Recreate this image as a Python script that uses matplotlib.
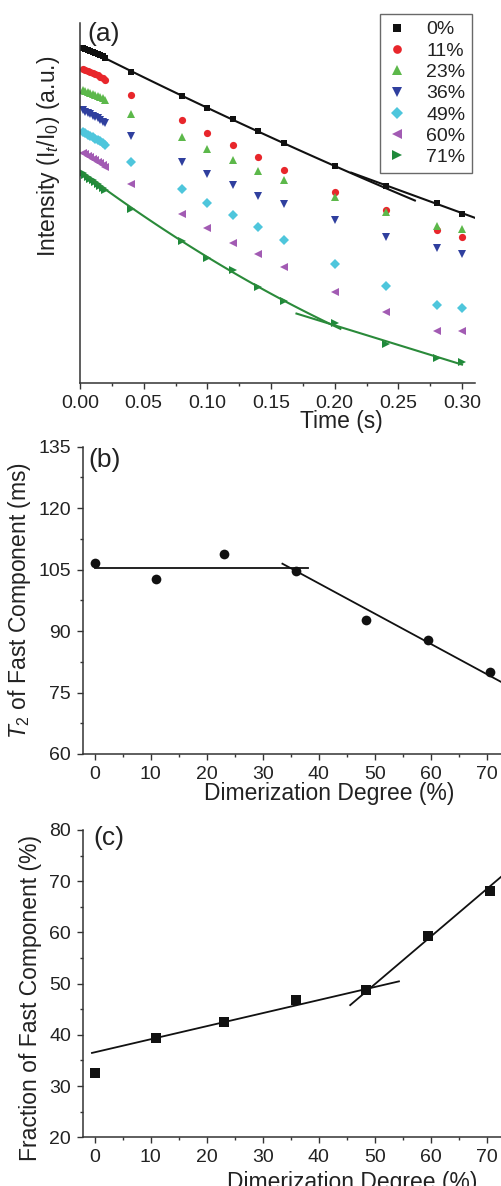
import numpy as np
import matplotlib
matplotlib.use("Agg")
import matplotlib.pyplot as plt
from matplotlib.ticker import MultipleLocator

plt.rcParams["font.family"] = ["Liberation Sans", "DejaVu Sans"]
plt.rcParams["mathtext.fontset"] = "custom"
plt.rcParams["mathtext.rm"] = "Liberation Sans"
plt.rcParams["mathtext.it"] = "Liberation Sans:italic"
plt.rcParams["text.color"] = "#222222"
plt.rcParams["axes.labelcolor"] = "#222222"
plt.rcParams["xtick.color"] = "#222222"
plt.rcParams["ytick.color"] = "#222222"

# ---- panel (a): decay curves, intensity in arbitrary units ----
time_s = [0.002, 0.004, 0.006, 0.008, 0.010, 0.012, 0.014, 0.016, 0.018, 0.020,
          0.04, 0.08, 0.10, 0.12, 0.14, 0.16, 0.20, 0.24, 0.28, 0.30]
intensity = {
    "0%":  [3.36, 3.35, 3.34, 3.33, 3.32, 3.31, 3.30, 3.29, 3.275, 3.26,
            3.12, 2.877, 2.757, 2.643, 2.523, 2.403, 2.177, 1.98, 1.807, 1.697],
    "11%": [3.15, 3.14, 3.13, 3.12, 3.11, 3.10, 3.09, 3.07, 3.055, 3.04,
            2.89, 2.633, 2.51, 2.39, 2.27, 2.14, 1.92, 1.733, 1.533, 1.467],
    "23%": [2.94, 2.93, 2.92, 2.91, 2.90, 2.89, 2.88, 2.87, 2.855, 2.84,
            2.70, 2.47, 2.343, 2.24, 2.127, 2.04, 1.867, 1.713, 1.573, 1.547],
    "36%": [2.74, 2.72, 2.71, 2.70, 2.68, 2.67, 2.66, 2.64, 2.62, 2.605,
            2.473, 2.217, 2.10, 1.99, 1.877, 1.79, 1.63, 1.467, 1.35, 1.293],
    "49%": [2.52, 2.51, 2.49, 2.48, 2.47, 2.45, 2.44, 2.43, 2.41, 2.39,
            2.22, 1.943, 1.807, 1.683, 1.563, 1.433, 1.197, 0.97, 0.78, 0.75],
    "60%": [2.31, 2.30, 2.28, 2.27, 2.25, 2.24, 2.22, 2.21, 2.19, 2.17,
            1.993, 1.693, 1.55, 1.407, 1.293, 1.16, 0.913, 0.707, 0.517, 0.517],
    "71%": [2.11, 2.09, 2.07, 2.05, 2.04, 2.02, 2.00, 1.98, 1.96, 1.94,
            1.74, 1.427, 1.257, 1.13, 0.963, 0.82, 0.60, 0.39, 0.247, 0.21],
}
series_colors = ["#111111", "#e8262b", "#5cb84a", "#2f3f9e", "#4ec6dc", "#a25bb3", "#1f8a3b"]
series_markers = ["s", "o", "^", "v", "D", "<", ">"]
series_msize = [4.8, 5.2, 5.6, 5.6, 4.8, 5.6, 5.6]

# two-segment fits: (series, fit range of points, drawn range, degree)
fits_a = [
    ("0%", (0.0, 0.20), (0.003, 0.263), 2),
    ("0%", (0.24, 0.30), (0.213, 0.312), 1),
    ("71%", (0.0, 0.16), (0.003, 0.2045), 2),
    ("71%", (0.20, 0.30), (0.17, 0.30), 1),
]
fit_colors = {"0%": "#111111", "71%": "#2a8a3a"}

# ---- panel (b): T2 of fast component ----
dimer = [0, 11, 23, 36, 48.5, 59.5, 70.5]
t2_fast = [106.7, 102.7, 108.7, 104.7, 92.8, 87.8, 79.9]
# fitted lines: (x start, x end, slope, intercept)
fits_b = [(0, 38, 0.0, 105.5), (33.5, 74, -0.739, 131.2)]

# ---- panel (c): fraction of fast component ----
frac_fast = [32.5, 39.3, 42.6, 46.8, 48.7, 59.4, 68.1]
fits_c = [(-0.5, 54.3, 0.255, 36.6), (45.6, 74, 0.93, 3.4)]

W, H = 502, 1186
fig = plt.figure(figsize=(W / 100, H / 100), dpi=100)

ax_a = fig.add_axes([80 / W, 1 - 383 / H, 395 / W, 360 / H])
ax_b = fig.add_axes([83 / W, 1 - 754 / H, 1 - 83 / W, 307.3 / H])
ax_c = fig.add_axes([83 / W, 1 - 1137.3 / H, 1 - 83 / W, 307.3 / H])

TICK_FS = 14
LABEL_FS = 16.5
PANEL_FS = 19

for ax in (ax_a, ax_b, ax_c):
    for side in ("top", "right"):
        ax.spines[side].set_visible(False)
    for side in ("left", "bottom"):
        ax.spines[side].set_linewidth(1.1)
        ax.spines[side].set_color("#333333")
    ax.tick_params(which="both", direction="out", labelsize=TICK_FS, width=1.0,
                   colors="#333333", labelcolor="#222222")
    ax.tick_params(which="major", length=4.5, pad=4)
    ax.tick_params(which="minor", length=2.5)

# panel (a)
t = np.array(time_s)
for (label, vals), c, m, ms in zip(intensity.items(), series_colors, series_markers, series_msize):
    ax_a.plot(t, vals, linestyle="none", marker=m, color=c, markersize=ms,
              markeredgewidth=0, label=label)

for label, (f0, f1), (d0, d1), deg in fits_a:
    y = np.array(intensity[label])
    sel = (t >= f0) & (t <= f1)
    coef = np.polyfit(t[sel], y[sel], deg)
    xx = np.linspace(d0, d1, 100)
    ax_a.plot(xx, np.polyval(coef, xx), color=fit_colors[label], linewidth=1.5)

ax_a.set_xlim(0, 0.3102)
ax_a.set_ylim(0, 3.61)
ax_a.set_yticks([])
ax_a.xaxis.set_minor_locator(MultipleLocator(0.025))
ax_a.set_xticks(np.arange(0, 0.31, 0.05))
ax_a.set_xticklabels([f"{v:.2f}" for v in np.arange(0, 0.31, 0.05)])
ax_a.set_xlabel("Time (s)", fontsize=LABEL_FS)
ax_a.xaxis.set_label_coords((341 - 80) / 395, -(410 - 383) / 360)
ax_a.set_ylabel("Intensity (I$_t$/I$_0$) (a.u.)", fontsize=LABEL_FS)
ax_a.yaxis.set_label_coords(-(80 - 62) / 395, (383 - 156) / 360)
ax_a.text(7 / 395, (383 - 34) / 360, "(a)", transform=ax_a.transAxes,
          fontsize=PANEL_FS, va="center", ha="left")
leg = ax_a.legend(loc="upper right", bbox_to_anchor=(472 / W, 1 - 14 / H),
                  bbox_transform=fig.transFigure, borderaxespad=0,
                  fontsize=14, frameon=True, fancybox=False, handlelength=1.0,
                  handletextpad=1.0, labelspacing=0.19, borderpad=0.35,
                  markerscale=1.2)
leg.get_frame().set_edgecolor("#444444")
leg.get_frame().set_linewidth(1.0)

# panel (b)
ax_b.plot(dimer, t2_fast, linestyle="none", marker="o", color="#111111",
          markersize=7.0, markeredgewidth=0)
for x0, x1, k, b in fits_b:
    xx = np.array([x0, x1])
    ax_b.plot(xx, k * xx + b, color="#111111", linewidth=1.3)
ax_b.set_xlim(-2.1, 72.7)
ax_b.set_ylim(60, 135)
ax_b.set_xticks(range(0, 71, 10))
ax_b.xaxis.set_minor_locator(MultipleLocator(5))
ax_b.set_yticks(range(60, 136, 15))
ax_b.yaxis.set_minor_locator(MultipleLocator(7.5))
ax_b.set_xlabel("Dimerization Degree (%)", fontsize=LABEL_FS)
ax_b.xaxis.set_label_coords((329.5 - 83) / (W - 83), -(782 - 754) / 307.3)
ax_b.set_ylabel("$T_2$ of Fast Component (ms)", fontsize=LABEL_FS)
ax_b.yaxis.set_label_coords(-(83 - 33) / (W - 83), 0.5)
ax_b.text(5 / (W - 83), (754 - 460) / 307.3, "(b)", transform=ax_b.transAxes,
          fontsize=PANEL_FS, va="center", ha="left")

# panel (c)
ax_c.plot(dimer, frac_fast, linestyle="none", marker="s", color="#111111",
          markersize=6.6, markeredgewidth=0)
for x0, x1, k, b in fits_c:
    xx = np.array([x0, x1])
    ax_c.plot(xx, k * xx + b, color="#111111", linewidth=1.3)
ax_c.set_xlim(-2.1, 72.7)
ax_c.set_ylim(20, 80)
ax_c.set_xticks(range(0, 71, 10))
ax_c.xaxis.set_minor_locator(MultipleLocator(5))
ax_c.set_yticks(range(20, 81, 10))
ax_c.yaxis.set_minor_locator(MultipleLocator(5))
ax_c.set_xlabel("Dimerization Degree (%)", fontsize=LABEL_FS)
ax_c.xaxis.set_label_coords((352 - 83) / (W - 83), -(1171 - 1137.3) / 307.3)
ax_c.set_ylabel("Fraction of Fast Component (%)", fontsize=LABEL_FS)
ax_c.yaxis.set_label_coords(-(83 - 42) / (W - 83), (1137.3 - 998) / 307.3)
ax_c.text(10 / (W - 83), (1137.3 - 838) / 307.3, "(c)", transform=ax_c.transAxes,
          fontsize=PANEL_FS, va="center", ha="left")

fig.savefig("out.png", dpi=100)
